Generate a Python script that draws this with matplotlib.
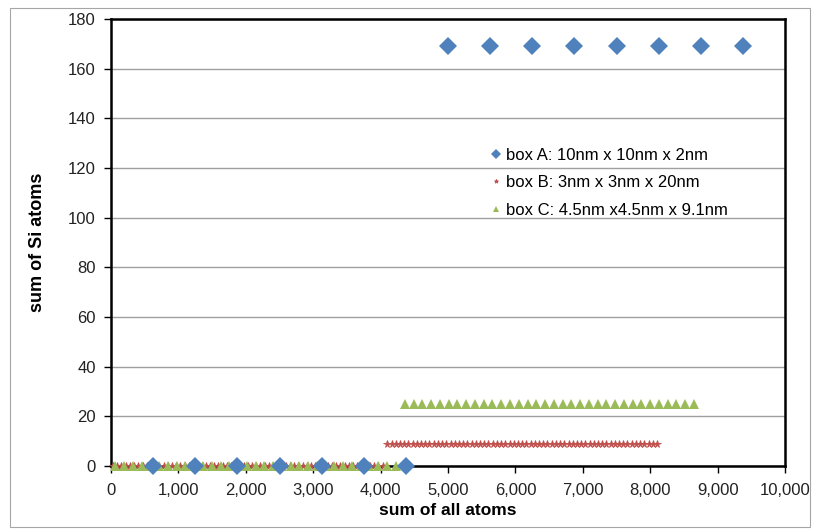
import matplotlib
matplotlib.use("Agg")
import matplotlib.pyplot as plt
from matplotlib.patches import Rectangle

plt.rcParams['font.family'] = ['Liberation Sans', 'DejaVu Sans']

# Box A: 10nm x 10nm x 2nm
a_x = [625, 1250, 1875, 2500, 3125, 3750, 4375, 5000, 5625, 6250, 6875, 7500, 8125, 8750, 9375]
a_y = [0, 0, 0, 0, 0, 0, 0, 169, 169, 169, 169, 169, 169, 169, 169]

# Box B: 3nm x 3nm x 20nm
b_x_low = [30, 93, 155, 218, 280, 343, 405, 468, 530, 593, 655, 718, 780, 843, 905, 968,
           1030, 1093, 1155, 1218, 1280, 1343, 1405, 1468, 1530, 1593, 1655, 1718, 1780, 1843,
           1905, 1968, 2030, 2093, 2155, 2218, 2280, 2343, 2405, 2468, 2530, 2593, 2655, 2718,
           2780, 2843, 2905, 2968, 3030, 3093, 3155, 3218, 3280, 3343, 3405, 3468, 3530, 3593,
           3655, 3718, 3780, 3843, 3905, 3968, 4030]
b_y_low = [0] * len(b_x_low)
b_x_high = [4100, 4163, 4225, 4288, 4350, 4413, 4475, 4538, 4600, 4663, 4725, 4788, 4850,
            4913, 4975, 5038, 5100, 5163, 5225, 5288, 5350, 5413, 5475, 5538, 5600, 5663,
            5725, 5788, 5850, 5913, 5975, 6038, 6100, 6163, 6225, 6288, 6350, 6413, 6475,
            6538, 6600, 6663, 6725, 6788, 6850, 6913, 6975, 7038, 7100, 7163, 7225, 7288,
            7350, 7413, 7475, 7538, 7600, 7663, 7725, 7788, 7850, 7913, 7975, 8038, 8100]
b_y_high = [9] * len(b_x_high)

# Box C: 4.5nm x 4.5nm x 9.1nm
c_x_low = [65, 195, 325, 455, 585, 715, 845, 975, 1105, 1235, 1365, 1495, 1625, 1755, 1885,
           2015, 2145, 2275, 2405, 2535, 2665, 2795, 2925, 3055, 3185, 3315, 3445, 3575,
           3705, 3835, 3965, 4095, 4225]
c_y_low = [0] * len(c_x_low)
c_x_high = [4360, 4490, 4620, 4750, 4880, 5010, 5140, 5270, 5400, 5530, 5660, 5790, 5920,
            6050, 6180, 6310, 6440, 6570, 6700, 6830, 6960, 7090, 7220, 7350, 7480, 7610,
            7740, 7870, 8000, 8130, 8260, 8390, 8520, 8650]
c_y_high = [25] * len(c_x_high)

labels = ['box A: 10nm x 10nm x 2nm', 'box B: 3nm x 3nm x 20nm', 'box C: 4.5nm x4.5nm x 9.1nm']
x_ticks = [0, 1000, 2000, 3000, 4000, 5000, 6000, 7000, 8000, 9000, 10000]
y_ticks = [0, 20, 40, 60, 80, 100, 120, 140, 160, 180]

blue = '#4F81BD'
red = '#C0504D'
green = '#9BBB59'

fig = plt.figure(figsize=(8.14, 5.31), dpi=100)
fig.patches.append(Rectangle((10 / 814, 1 - 527 / 531), 800 / 814, 519 / 531,
                             transform=fig.transFigure, fill=False,
                             edgecolor='#A6A6A6', linewidth=0.8))
ax = fig.add_axes([111 / 814, 1 - 466 / 531, 674 / 814, 447 / 531])

ax.plot(b_x_low + b_x_high, b_y_low + b_y_high, linestyle='none', marker='*',
        markersize=5.5, color=red, markeredgewidth=0.6, zorder=3, label=labels[1],
        clip_on=False)
ax.plot(c_x_low + c_x_high, c_y_low + c_y_high, linestyle='none', marker='^',
        markersize=6.8, color=green, markeredgewidth=0, zorder=4, label=labels[2],
        clip_on=False)
ax.plot(a_x, a_y, linestyle='none', marker='D', markersize=9.5, color=blue,
        markeredgewidth=0, zorder=5, label=labels[0], clip_on=False)

ax.set_xlim(0, 10000)
ax.set_ylim(0, 180)
ax.set_xticks(x_ticks)
ax.set_xticklabels([f'{v:,}' for v in x_ticks])
ax.set_yticks(y_ticks)
ax.tick_params(axis='both', direction='out', length=5, width=1, labelsize=12,
               colors='black')
ax.tick_params(axis='y', pad=6)
ax.tick_params(axis='x', pad=7)
ax.yaxis.grid(True, color='#A0A0A0', linewidth=1)
ax.set_axisbelow(True)
for s in ax.spines.values():
    s.set_linewidth(1.8)
    s.set_color('black')
for lab in ax.get_xticklabels() + ax.get_yticklabels():
    lab.set_color('#222222')

ax.set_xlabel('sum of all atoms', fontsize=12.5, fontweight='bold', labelpad=4)
ax.set_ylabel('sum of Si atoms', fontsize=13, fontweight='bold', labelpad=16)

h, l = ax.get_legend_handles_labels()
order = [2, 0, 1]
leg = ax.legend([h[i] for i in order], [l[i] for i in order], loc='upper left',
                bbox_to_anchor=(0.552, 0.731), frameon=False, fontsize=12,
                handlelength=0.6, handletextpad=0.3, labelspacing=0.75,
                borderpad=0, markerscale=0.55)

fig.savefig('out.png', dpi=100)
